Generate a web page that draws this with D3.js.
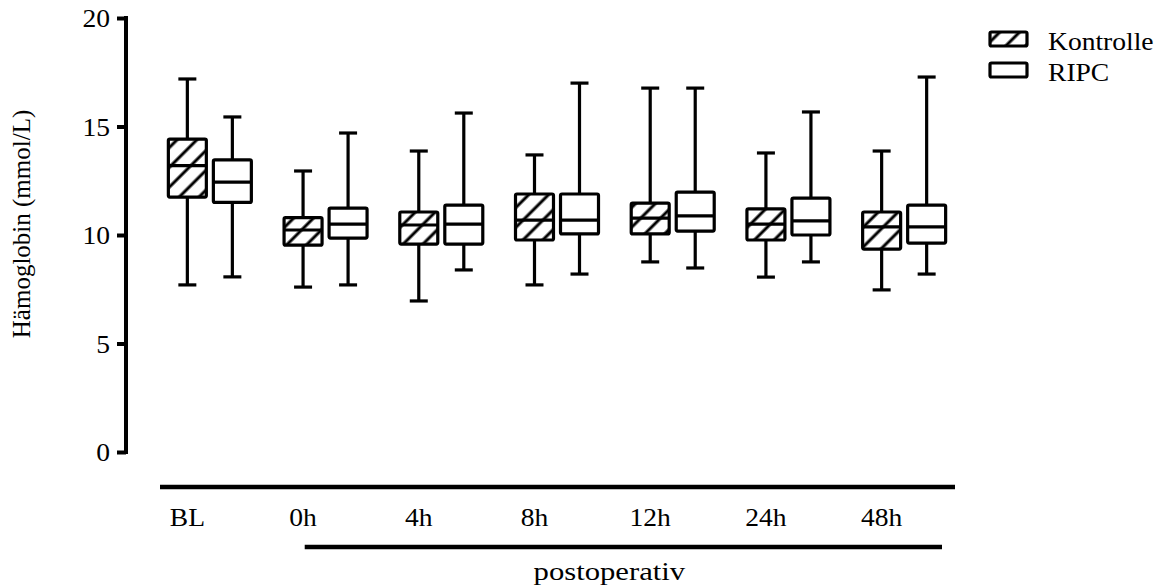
<!DOCTYPE html>
<html>
<head>
<meta charset="utf-8">
<script src="https://cdn.jsdelivr.net/npm/d3@7/dist/d3.min.js"></script>
<style>
  html, body { margin: 0; padding: 0; background: #fff; }
  svg { display: block; }
  text { font-family: "Liberation Serif", "Times New Roman", serif; fill: #000; }
</style>
</head>
<body>
<svg id="chart" width="1169" height="588"></svg>
<script>
// ---- data ----
const groups = ["BL", "0h", "4h", "8h", "12h", "24h", "48h"];
const seriesNames = ["Kontrolle", "RIPC"];
const yTicks = [0, 5, 10, 15, 20];

// Kontrolle box statistics
const kontrolleMin    = [7.7, 7.6, 6.96, 7.7, 8.76, 8.06, 7.47];
const kontrolleQ1     = [11.75, 9.53, 9.58, 9.77, 10.05, 9.77, 9.35];
const kontrolleMedian = [13.2, 10.23, 10.46, 10.69, 10.78, 10.5, 10.37];
const kontrolleQ3     = [14.42, 10.8, 11.06, 11.89, 11.47, 11.2, 11.06];
const kontrolleMax    = [17.19, 12.95, 13.87, 13.69, 16.77, 13.78, 13.87];

// RIPC box statistics
const ripcMin    = [8.07, 7.7, 8.39, 8.2, 8.48, 8.76, 8.2];
const ripcQ1     = [11.5, 9.86, 9.58, 10.05, 10.18, 10.0, 9.63];
const ripcMedian = [12.44, 10.5, 10.5, 10.69, 10.88, 10.65, 10.37];
const ripcQ3     = [13.46, 11.24, 11.38, 11.89, 11.98, 11.7, 11.38];
const ripcMax    = [15.44, 14.7, 15.62, 17.0, 16.77, 15.67, 17.28];

const yLabel = "Hämoglobin (mmol/L)";
const spanLabel = "postoperativ";

// ---- build records ----
const boxes = [];
groups.forEach((g, i) => {
  boxes.push({group: g, series: "Kontrolle", min: kontrolleMin[i], q1: kontrolleQ1[i], med: kontrolleMedian[i], q3: kontrolleQ3[i], max: kontrolleMax[i]});
  boxes.push({group: g, series: "RIPC", min: ripcMin[i], q1: ripcQ1[i], med: ripcMedian[i], q3: ripcQ3[i], max: ripcMax[i]});
});

const svg = d3.select("#chart");
const FS = 26;
const SX = 1.06; // horizontal stretch of text as in the reference

// pattern
const defs = svg.append("defs");
const pat = defs.append("pattern")
  .attr("id", "hatch")
  .attr("patternUnits", "userSpaceOnUse")
  .attr("width", 14).attr("height", 14)
  .attr("patternTransform", "rotate(45)");
pat.append("rect").attr("width", 14).attr("height", 14).attr("fill", "#fff");
pat.append("line").attr("x1", 7).attr("y1", -1).attr("x2", 7).attr("y2", 15)
  .attr("stroke", "#000").attr("stroke-width", 3);

// scales
const y = d3.scaleLinear().domain([0, 20]).range([452, 18]);
const x = d3.scaleBand().domain(groups).range([152, 962]).padding(0);
const half = 41.5;
const xs = d3.scaleBand().domain(seriesNames)
  .range([x.bandwidth() / 2 - half, x.bandwidth() / 2 + half])
  .paddingInner(0.156).paddingOuter(0);
const bw = xs.bandwidth();

// y axis
const yAxis = d3.axisLeft(y).tickValues(yTicks).tickSize(9).tickSizeOuter(0).tickPadding(7);
const gy = svg.append("g").attr("transform", "translate(126,0)").call(yAxis);
gy.select(".domain").attr("stroke", "#000").attr("stroke-width", 4).attr("d", `M0,${y(20) - 2}V${y(0) + 2}`);
gy.selectAll(".tick line").attr("stroke", "#000").attr("stroke-width", 4);
gy.selectAll(".tick text")
  .attr("font-size", FS).attr("font-family", "Liberation Serif")
  .attr("x", -16 / SX)
  .attr("transform", `scale(${SX},1)`)
  .attr("dy", "0.34em");

// y label
svg.append("text")
  .attr("transform", `translate(30,224) rotate(-90)`)
  .attr("text-anchor", "middle")
  .attr("font-size", 25)
  .text(yLabel);

// boxes
const gBoxes = svg.append("g");
const bg = gBoxes.selectAll("g.box").data(boxes).join("g")
  .attr("class", "box")
  .attr("transform", d => `translate(${x(d.group) + xs(d.series)},0)`);

const capW = 18;
bg.append("line")
  .attr("x1", bw / 2).attr("x2", bw / 2)
  .attr("y1", d => y(d.max)).attr("y2", d => y(d.min))
  .attr("stroke", "#000").attr("stroke-width", 3.2);
bg.append("line")
  .attr("x1", bw / 2 - capW / 2).attr("x2", bw / 2 + capW / 2)
  .attr("y1", d => y(d.max)).attr("y2", d => y(d.max))
  .attr("stroke", "#000").attr("stroke-width", 3.2);
bg.append("line")
  .attr("x1", bw / 2 - capW / 2).attr("x2", bw / 2 + capW / 2)
  .attr("y1", d => y(d.min)).attr("y2", d => y(d.min))
  .attr("stroke", "#000").attr("stroke-width", 3.2);
bg.append("rect")
  .attr("x", 0).attr("width", bw)
  .attr("y", d => y(d.q3)).attr("height", d => y(d.q1) - y(d.q3))
  .attr("rx", 1.5)
  .attr("fill", d => d.series === "Kontrolle" ? "url(#hatch)" : "#fff")
  .attr("stroke", "#000").attr("stroke-width", 3.2).attr("stroke-linejoin", "round");
bg.append("line")
  .attr("x1", 0).attr("x2", bw)
  .attr("y1", d => y(d.med)).attr("y2", d => y(d.med))
  .attr("stroke", "#000").attr("stroke-width", 3.2);

// x axis line
const xLine0 = x(groups[0]) + 8;
const xLine1 = x(groups[groups.length - 1]) + x.bandwidth() - 7;
svg.append("line").attr("x1", xLine0).attr("x2", xLine1)
  .attr("y1", 487).attr("y2", 487)
  .attr("stroke", "#000").attr("stroke-width", 4.5);

// x labels under Kontrolle box
svg.append("g").selectAll("text").data(groups).join("text")
  .attr("transform", g => `translate(${x(g) + xs("Kontrolle") + bw / 2},526) scale(${SX},1)`)
  .attr("text-anchor", "middle")
  .attr("font-size", FS)
  .text(g => g);

// postoperativ span
const sp0 = x(groups[1]) + 37;
const sp1 = x(groups[groups.length - 1]) + x.bandwidth() - 20;
svg.append("line").attr("x1", sp0).attr("x2", sp1)
  .attr("y1", 547).attr("y2", 547)
  .attr("stroke", "#000").attr("stroke-width", 4.5);
svg.append("text")
  .attr("transform", `translate(${(sp0 + sp1) / 2 - 14},580) scale(1.18,1)`)
  .attr("text-anchor", "middle")
  .attr("font-size", FS)
  .text(spanLabel);

// legend
const lg = svg.append("g").attr("transform", "translate(990,32)");
const li = lg.selectAll("g").data(seriesNames).join("g")
  .attr("transform", (d, i) => `translate(0,${i * 31})`);
li.append("rect").attr("x", 0).attr("y", 0).attr("width", 37).attr("height", 14).attr("rx", 1.5)
  .attr("fill", d => d === "Kontrolle" ? "url(#hatch)" : "#fff")
  .attr("stroke", "#000").attr("stroke-width", 3.2);
li.append("text")
  .attr("transform", `translate(58,18) scale(${SX},1)`)
  .attr("font-size", FS)
  .text(d => d);
</script>
</body>
</html>
